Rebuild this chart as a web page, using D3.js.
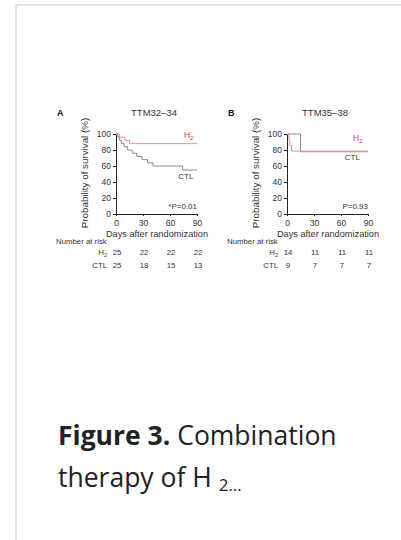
<!DOCTYPE html>
<html>
<head>
<meta charset="UTF-8">
<script src="https://d3js.org/d3.v7.min.js"></script>
<style>
  body { margin: 0; background: #fff; }
  svg { display: block; }
  .axis text { font-family: "Liberation Sans", Arial, sans-serif; font-size: 8.5px; fill: #333; }
  .axis path, .axis line { stroke: #222; stroke-width: 1; }
  .lbl { font-family: "Liberation Sans", Arial, sans-serif; }
  .cap { font-family: "Open Sans", sans-serif; fill: #222; }
</style>
</head>
<body>
<div id="chart"></div>
<script>
// panel A: TTM32–34
const daysA_H2 = [0, 4, 10, 15, 90];
const survA_H2 = [100, 96, 92, 88, 88];
const daysA_CTL = [0, 2, 4, 6, 9, 13, 18, 23, 29, 35, 41, 74, 90];
const survA_CTL = [100, 96, 92, 88, 84, 80, 76, 72, 68, 64, 60, 55, 55];
const riskA_H2 = ['25', '22', '22', '22'];
const riskA_CTL = ['25', '18', '15', '13'];

// panel B: TTM35–38
const daysB_H2 = [0, 2, 3, 5, 90];
const survB_H2 = [100, 92.9, 85.7, 78.6, 78.6];
const daysB_CTL = [0, 15, 90];
const survB_CTL = [100, 77.8, 77.8];
const riskB_H2 = ['14', '11', '11', '11'];
const riskB_CTL = ['9', '7', '7', '7'];

const xTicks = [0, 30, 60, 90];
const yTicks = [0, 20, 40, 60, 80, 100];

const width = 401, height = 540;
const svg = d3.select('#chart').append('svg')
  .attr('width', width)
  .attr('height', height);

// card border
svg.append('line').attr('x1', 16).attr('x2', 16).attr('y1', 5).attr('y2', height)
  .attr('stroke', '#e4e4e4').attr('stroke-width', 2);
svg.append('line').attr('x1', 15).attr('x2', width).attr('y1', 5).attr('y2', 5)
  .attr('stroke', '#e4e4e4').attr('stroke-width', 2);

function txt(g, x, y, size, s, color) {
  return g.append('text').attr('class', 'lbl')
    .attr('x', x).attr('y', y)
    .attr('font-size', size)
    .style('fill', color || '#333')
    .text(s);
}

function drawPanel(opt) {
  const x = d3.scaleLinear().domain([0, 90]).range([opt.left, opt.left + 81]);
  const y = d3.scaleLinear().domain([0, 100]).range([214, 134]);
  const g = svg.append('g');

  txt(g, opt.left - 59, 116, 9, opt.letter, '#111').attr('font-weight', 'bold');
  txt(g, opt.left + 38, 116, 9.5, opt.title).attr('text-anchor', 'middle');

  g.append('g').attr('class', 'axis')
    .attr('transform', `translate(${opt.left},0)`)
    .call(d3.axisLeft(y).tickValues(yTicks).tickSize(3).tickPadding(2).tickSizeOuter(0));
  g.append('g').attr('class', 'axis')
    .attr('transform', 'translate(0,214)')
    .call(d3.axisBottom(x).tickValues(xTicks).tickSize(2).tickPadding(4).tickSizeOuter(0));

  g.append('text').attr('class', 'lbl')
    .attr('transform', `translate(${opt.left - 28},173) rotate(-90)`)
    .attr('text-anchor', 'middle').attr('font-size', 9.8)
    .style('fill', '#333')
    .text('Probability of survival (%)');
  txt(g, opt.left + 41, 237, 9.2, 'Days after randomization').attr('text-anchor', 'middle');

  const line = d3.line().curve(d3.curveStepAfter)
    .x(d => x(d[0])).y(d => y(d[1]));
  g.append('path')
    .datum(opt.ctl[0].map((d, i) => [d, opt.ctl[1][i]]))
    .attr('fill', 'none').attr('stroke', '#8a8a8a').attr('stroke-width', 1)
    .attr('d', line);
  g.append('path')
    .datum(opt.h2[0].map((d, i) => [d, opt.h2[1][i]]))
    .attr('fill', 'none').attr('stroke', '#f39090').attr('stroke-width', 1)
    .attr('d', line);

  // curve labels
  const h2 = txt(g, x(opt.h2Label[0]), y(opt.h2Label[1]), 8.5, null, '#e8392f')
    .attr('text-anchor', 'end');
  h2.append('tspan').text('H');
  h2.append('tspan').attr('font-size', 6).attr('dy', 2).text('2');
  txt(g, x(opt.ctlLabel[0]), y(opt.ctlLabel[1]), 8, 'CTL').attr('text-anchor', 'end');
  txt(g, x(90), 209, 8, opt.p).attr('text-anchor', 'end');

  // number at risk
  txt(g, opt.left - 60, 244, 7.8, 'Number at risk');
  const r1 = txt(g, opt.left - 9, 255, 7.8, null).attr('text-anchor', 'end');
  r1.append('tspan').text('H');
  r1.append('tspan').attr('font-size', 5.5).attr('dy', 1.5).text('2');
  txt(g, opt.left - 9, 268, 7.8, 'CTL').attr('text-anchor', 'end');
  g.selectAll('.rh2').data(opt.riskH2).enter().append('text')
    .attr('class', 'lbl').attr('x', (d, i) => x(xTicks[i]) + 1).attr('y', 255)
    .attr('text-anchor', 'middle').attr('font-size', 7.8).style('fill', '#333').text(d => d);
  g.selectAll('.rctl').data(opt.riskCTL).enter().append('text')
    .attr('class', 'lbl').attr('x', (d, i) => x(xTicks[i]) + 1).attr('y', 268)
    .attr('text-anchor', 'middle').attr('font-size', 7.8).style('fill', '#333').text(d => d);
}

drawPanel({
  left: 116, letter: 'A', title: 'TTM32\u201334',
  h2: [daysA_H2, survA_H2], ctl: [daysA_CTL, survA_CTL],
  h2Label: [86, 95], ctlLabel: [86, 44], p: '*P=0.01',
  riskH2: riskA_H2, riskCTL: riskA_CTL
});
drawPanel({
  left: 287, letter: 'B', title: 'TTM35\u201338',
  h2: [daysB_H2, survB_H2], ctl: [daysB_CTL, survB_CTL],
  h2Label: [84, 91], ctlLabel: [81, 68], p: 'P=0.93',
  riskH2: riskB_H2, riskCTL: riskB_CTL
});

// caption
const c1 = svg.append('text').attr('class', 'cap').attr('x', 58).attr('y', 445).attr('font-size', 26.5);
c1.append('tspan').attr('font-weight', 'bold').text('Figure 3.');
c1.append('tspan').text(' Combination');
const c2 = svg.append('text').attr('class', 'cap').attr('x', 58).attr('y', 487).attr('font-size', 26.5);
c2.append('tspan').text('therapy of H ');
c2.append('tspan').attr('font-size', 17).attr('dy', 4).text('2...');
</script>
</body>
</html>
